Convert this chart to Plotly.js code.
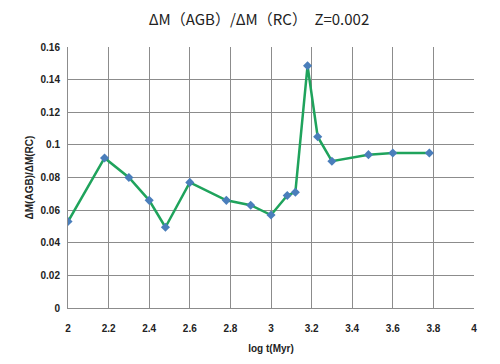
<!DOCTYPE html>
<html><head><meta charset="utf-8">
<script src="https://cdn.plot.ly/plotly-3.0.1.min.js"></script>
<style>html,body{margin:0;padding:0;background:#fff}#chart{width:500px;height:364px}</style>
</head><body><div id="chart"></div>
<script>
var logT = [2.0, 2.18, 2.30, 2.40, 2.48, 2.60, 2.78, 2.90, 3.00, 3.08, 3.12, 3.18, 3.23, 3.30, 3.48, 3.60, 3.78];
var ratio = [0.053, 0.092, 0.080, 0.066, 0.0495, 0.077, 0.066, 0.063, 0.057, 0.069, 0.071, 0.1485, 0.105, 0.090, 0.094, 0.095, 0.095];
var titleText = 'ΔM（AGB）/ΔM（RC）　Z=0.002';
var xTitle = 'log t(Myr)';
var yTitle = 'ΔM(AGB)/ΔM(RC)';

var trace = {
  x: logT, y: ratio, type: 'scatter', mode: 'lines+markers',
  line: {color: '#1fa35c', width: 2.5},
  marker: {symbol: 'diamond', color: '#4a7ebb', size: 7}
};
var tickFont = {family: 'Liberation Sans, Arial, sans-serif', size: 10, color: '#222', weight: 'bold'};
var layout = {
  width: 500, height: 364,
  margin: {l: 68, r: 26, t: 47, b: 56},
  paper_bgcolor: '#fff', plot_bgcolor: '#fff',
  showlegend: false,
  title: {text: titleText, x: 0.518, xanchor: 'center', y: 0.945, yanchor: 'middle',
          font: {family: 'Noto Sans CJK JP, sans-serif', size: 15, color: '#222'}},
  xaxis: {range: [2, 4], dtick: 0.2, tick0: 2, showgrid: true, gridcolor: '#8c8c8c', gridwidth: 1,
          zeroline: false, showline: true, linecolor: '#8c8c8c', ticks: '', tickfont: tickFont,
          ticklabelstandoff: 11,
          title: {text: xTitle, font: {family: 'Liberation Sans, Arial, sans-serif', size: 10, color: '#222', weight: 'bold'}, standoff: 11}},
  yaxis: {range: [0, 0.16], dtick: 0.02, showgrid: true, gridcolor: '#8c8c8c', gridwidth: 1,
          zeroline: false, showline: true, linecolor: '#8c8c8c', ticks: '', tickfont: tickFont,
          ticklabelstandoff: 5,
          title: {text: yTitle, font: {family: 'Liberation Sans, Arial, sans-serif', size: 10, color: '#222', weight: 'bold'}, standoff: 5}}
};
Plotly.newPlot('chart', [trace], layout, {displayModeBar: false, staticPlot: true});
</script></body></html>
